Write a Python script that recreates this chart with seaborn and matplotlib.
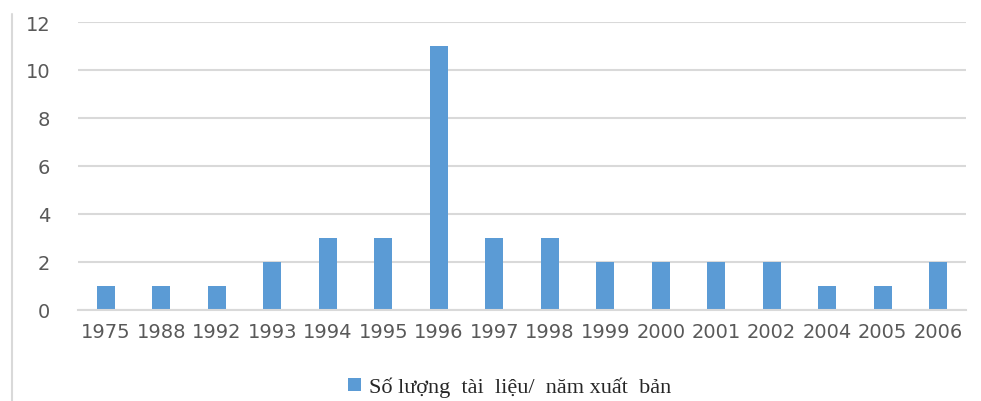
import matplotlib
matplotlib.use("Agg")
import matplotlib.pyplot as plt
import seaborn as sns
import pandas as pd
from matplotlib.lines import Line2D
from matplotlib.patches import Patch

years = ["1975", "1988", "1992", "1993", "1994", "1995", "1996", "1997",
         "1998", "1999", "2000", "2001", "2002", "2004", "2005", "2006"]
counts = [1, 1, 1, 2, 3, 3, 11, 3, 3, 2, 2, 2, 2, 1, 1, 2]
series_name = "Số lượng  tài  liệu/  năm xuất  bản"
yticks = [0, 2, 4, 6, 8, 10, 12]

df = pd.DataFrame({"year": years, "count": counts})

sns.set_theme(style="white")
plt.rcParams['font.family'] = ['DejaVu Sans']

fig = plt.figure(figsize=(9.81, 4.02), dpi=100)
ax = fig.add_axes([78/981, 1 - 311/402, (966-78)/981, (311-23)/402])

sns.barplot(data=df, x="year", y="count", color="#5B9BD5", width=0.33,
            saturation=1, ax=ax, edgecolor="none")

ax.set_ylim(0, 12)
ax.set_yticks(yticks)
ax.set_xlim(-0.5, len(years) - 0.5)
ax.yaxis.grid(True, color="#D9D9D9", linewidth=1.5)
ax.set_axisbelow(True)
for s in ["top", "right", "left"]:
    ax.spines[s].set_visible(False)
ax.spines["bottom"].set_color("#D9D9D9")
ax.spines["bottom"].set_linewidth(1.5)
ax.set_xlabel("")
ax.set_ylabel("")
ax.tick_params(axis="both", length=0, colors="#595959", labelsize=14)
ax.tick_params(axis="y", pad=20)
ax.tick_params(axis="x", pad=9)

# left border line of the cropped frame
fig.add_artist(Line2D([12/981, 12/981], [0, 1 - 15/402], color="#D9D9D9",
                      linewidth=1.5, transform=fig.transFigure))

handle = Patch(facecolor="#5B9BD5", edgecolor="none")
fig.legend([handle], [series_name], loc="center", bbox_to_anchor=(510/981, 1 - 388/402),
           frameon=False, handlelength=0.55, handleheight=0.55, handletextpad=0.4,
           prop={"family": "Liberation Serif", "size": 16})

fig.savefig("out.png", dpi=100)
